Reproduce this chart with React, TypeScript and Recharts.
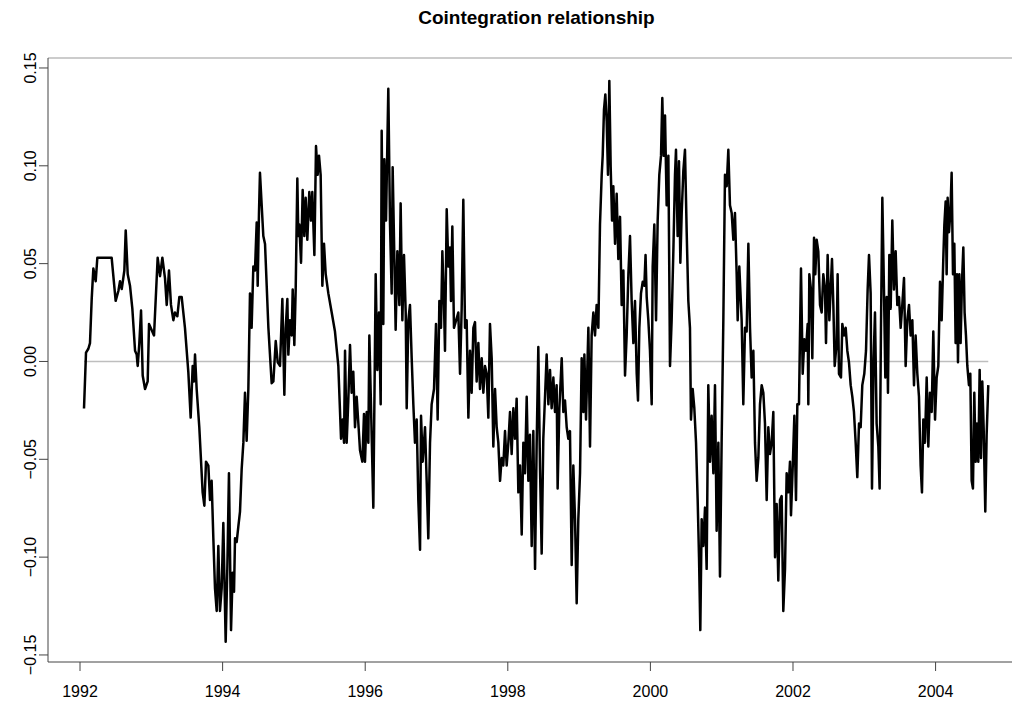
import React from 'react'
import { LineChart, Line, XAxis, YAxis, ReferenceLine } from 'recharts'

const title = 'Cointegration relationship'
const yearTicks = [1992, 1994, 1996, 1998, 2000, 2002, 2004]
const valueTicks = [-0.15, -0.1, -0.05, 0, 0.05, 0.1, 0.15]

// decimal-year dates of the spread
const dates = [
  1992.056, 1992.084, 1992.117, 1992.140, 1992.164, 1992.187, 1992.220, 1992.243, 1992.444, 1992.500,
  1992.538, 1992.561, 1992.585, 1992.622, 1992.641, 1992.669, 1992.701, 1992.734, 1992.772, 1992.795,
  1992.809, 1992.832, 1992.856, 1992.879, 1992.912, 1992.949, 1992.968, 1993.038, 1993.089, 1993.122,
  1993.155, 1993.192, 1993.216, 1993.248, 1993.276, 1993.309,
  1993.332, 1993.365, 1993.393, 1993.426, 1993.472, 1993.519, 1993.552, 1993.580, 1993.599, 1993.613,
  1993.636, 1993.673, 1993.720, 1993.744, 1993.767, 1993.800, 1993.823, 1993.846, 1993.870, 1993.893,
  1993.917, 1993.940, 1993.963, 1993.987, 1994.010, 1994.043, 1994.066, 1994.089, 1994.118, 1994.141,
  1994.160, 1994.174, 1994.197, 1994.220, 1994.244, 1994.267, 1994.291, 1994.314, 1994.337, 1994.361,
  1994.384, 1994.407, 1994.431, 1994.454, 1994.478, 1994.492, 1994.510, 1994.524, 1994.571,
  1994.595, 1994.642, 1994.688, 1994.712, 1994.745, 1994.773, 1994.805, 1994.838, 1994.866, 1994.885,
  1994.908, 1994.922, 1994.945, 1994.969, 1994.983, 1995.006, 1995.025, 1995.048, 1995.062, 1995.076,
  1995.100, 1995.123, 1995.146, 1995.165, 1995.188, 1995.216, 1995.240, 1995.258, 1995.287, 1995.310,
  1995.333, 1995.352, 1995.375, 1995.399, 1995.422, 1995.446, 1995.483, 1995.530, 1995.576, 1995.623,
  1995.661, 1995.684, 1995.703, 1995.717, 1995.740, 1995.763, 1995.787, 1995.810, 1995.833, 1995.857,
  1995.880, 1995.904, 1995.927, 1995.960, 1995.983,
  1995.997, 1996.021, 1996.044, 1996.058, 1996.077, 1996.114, 1996.147, 1996.170, 1996.193, 1996.217,
  1996.231, 1996.254, 1996.268, 1996.292, 1996.324, 1996.348, 1996.371, 1996.385, 1996.409, 1996.427,
  1996.451, 1996.479, 1996.497, 1996.521, 1996.544, 1996.568, 1996.582, 1996.605, 1996.628, 1996.652,
  1996.675, 1996.698, 1996.722, 1996.745, 1996.769, 1996.783, 1996.806, 1996.839, 1996.862, 1996.885,
  1996.909, 1996.932, 1996.965, 1996.993, 1997.016, 1997.040, 1997.063, 1997.082, 1997.105, 1997.119,
  1997.143, 1997.166, 1997.189, 1997.203, 1997.222, 1997.245,
  1997.306, 1997.330, 1997.353, 1997.376, 1997.400, 1997.423, 1997.447, 1997.470, 1997.493, 1997.517,
  1997.540, 1997.563, 1997.587, 1997.610, 1997.634, 1997.657, 1997.680, 1997.704, 1997.727, 1997.750,
  1997.774, 1997.797, 1997.821, 1997.844, 1997.867, 1997.891, 1997.914, 1997.937, 1997.961, 1997.984,
  1998.008, 1998.031, 1998.054, 1998.078, 1998.101, 1998.124, 1998.148, 1998.171, 1998.195, 1998.218,
  1998.241, 1998.265, 1998.288, 1998.311, 1998.335, 1998.358, 1998.382, 1998.405, 1998.428, 1998.452,
  1998.475, 1998.498, 1998.522, 1998.545, 1998.569,
  1998.592, 1998.615, 1998.639, 1998.662, 1998.685, 1998.699, 1998.723, 1998.756, 1998.779, 1998.802,
  1998.826, 1998.849, 1998.872, 1998.896, 1998.919, 1998.943, 1998.966, 1998.989, 1999.013, 1999.036,
  1999.060, 1999.074, 1999.097, 1999.130, 1999.153, 1999.176, 1999.200, 1999.223, 1999.246, 1999.270,
  1999.293, 1999.317, 1999.331, 1999.349, 1999.368, 1999.387, 1999.405, 1999.424, 1999.443, 1999.462,
  1999.480, 1999.504, 1999.527, 1999.550, 1999.574, 1999.597, 1999.621, 1999.644, 1999.667, 1999.691,
  1999.714, 1999.737, 1999.761, 1999.784, 1999.808, 1999.826, 1999.845, 1999.868, 1999.892, 1999.915,
  1999.932,
  1999.948, 1999.971, 1999.994, 2000.018, 2000.032, 2000.055, 2000.079, 2000.102, 2000.125, 2000.149,
  2000.167, 2000.186, 2000.205, 2000.228, 2000.252, 2000.275, 2000.298, 2000.322, 2000.345, 2000.359,
  2000.382, 2000.401, 2000.420, 2000.439, 2000.462, 2000.485, 2000.509, 2000.532, 2000.555, 2000.569,
  2000.593, 2000.616, 2000.640, 2000.663, 2000.682, 2000.700, 2000.719, 2000.742, 2000.766, 2000.789,
  2000.812, 2000.836, 2000.859, 2000.883, 2000.906, 2000.929, 2000.953, 2000.976, 2000.999, 2001.023,
  2001.046, 2001.070, 2001.093, 2001.116, 2001.140, 2001.163, 2001.186, 2001.210, 2001.224, 2001.247,
  2001.280, 2001.303, 2001.327, 2001.350, 2001.374, 2001.397, 2001.420, 2001.444, 2001.467, 2001.490,
  2001.514, 2001.537, 2001.561, 2001.584, 2001.607, 2001.631, 2001.654, 2001.677, 2001.701, 2001.724,
  2001.748, 2001.771, 2001.794, 2001.818, 2001.841, 2001.864, 2001.888, 2001.911, 2001.935, 2001.958,
  2001.972, 2001.995, 2002.019, 2002.042, 2002.061, 2002.084, 2002.112, 2002.136, 2002.159, 2002.182,
  2002.206, 2002.215, 2002.229, 2002.252, 2002.271, 2002.295, 2002.313, 2002.332, 2002.355, 2002.379,
  2002.402, 2002.425, 2002.449, 2002.463, 2002.486, 2002.510, 2002.528, 2002.547, 2002.566, 2002.585,
  2002.612, 2002.626, 2002.645, 2002.673, 2002.692, 2002.715, 2002.739, 2002.762, 2002.785, 2002.809,
  2002.832, 2002.855, 2002.879, 2002.902, 2002.926, 2002.949, 2002.972, 2003.000, 2003.024, 2003.047,
  2003.066, 2003.089, 2003.108, 2003.131, 2003.150, 2003.173, 2003.197, 2003.215, 2003.234, 2003.253,
  2003.276, 2003.295, 2003.314, 2003.332, 2003.351, 2003.370, 2003.393, 2003.416, 2003.440, 2003.463,
  2003.487, 2003.510, 2003.533, 2003.557, 2003.580, 2003.603, 2003.627, 2003.650, 2003.674, 2003.697,
  2003.720, 2003.744, 2003.767, 2003.790, 2003.809,
  2003.828, 2003.851, 2003.875, 2003.898, 2003.921, 2003.945, 2003.968, 2003.992, 2004.015, 2004.038,
  2004.062, 2004.085, 2004.108, 2004.123, 2004.141, 2004.155, 2004.169, 2004.188, 2004.207, 2004.225,
  2004.244, 2004.263, 2004.281, 2004.300, 2004.314, 2004.333, 2004.351, 2004.370, 2004.389, 2004.407,
  2004.426, 2004.445, 2004.468, 2004.487, 2004.506, 2004.524, 2004.543, 2004.562, 2004.580, 2004.599,
  2004.618, 2004.637, 2004.655, 2004.674, 2004.697, 2004.716, 2004.739,
]

const values = [
  -0.024, 0.0045, 0.0065, 0.0094, 0.032, 0.0475, 0.041, 0.053, 0.053, 0.031,
  0.036, 0.041, 0.037, 0.0465, 0.067, 0.0446, 0.0387, 0.027, 0.0055, 0.0035,
  -0.0023, 0.0094, 0.026, -0.0072, -0.0141, -0.0102, 0.0192, 0.0133, 0.053, 0.0436,
  0.053, 0.0426, 0.0289, 0.0465, 0.0289, 0.0211,
  0.025, 0.0231, 0.0329, 0.0329, 0.0172, -0.0053, -0.0287, -0.0023, -0.0102, 0.0035,
  -0.0141, -0.0336, -0.0669, -0.0737, -0.0512, -0.0532, -0.0708, -0.061, -0.0904, -0.1158,
  -0.1275, -0.0943, -0.1275, -0.1158, -0.0826, -0.1432, -0.106, -0.0571, -0.1373, -0.108,
  -0.1177, -0.0904, -0.0923, -0.0845, -0.0767, -0.0552, -0.0415, -0.016, -0.0405, -0.0141,
  0.0348, 0.0172, 0.0485, 0.0465, 0.071, 0.0387, 0.0759, 0.0964, 0.0641,
  0.060, 0.0172, -0.0111, -0.0102, 0.0104, -0.0004, -0.0023, 0.0319, -0.017, 0.0172,
  0.0319, 0.0035, 0.0211, 0.0133, 0.0368, 0.0084, 0.0368, 0.0935, 0.0641, 0.070,
  0.0505, 0.0876, 0.0641, 0.0837, 0.0622, 0.0866, 0.072, 0.0866, 0.0544, 0.1101,
  0.0954, 0.1052, 0.0954, 0.0387, 0.0602, 0.0446, 0.0348, 0.025, 0.0153, -0.0023,
  -0.0395, -0.0297, -0.0415, 0.0055, -0.0415, -0.0199, 0.0084, -0.016, -0.0053, -0.0336,
  -0.018, -0.0317, -0.0454, -0.0512, -0.0268,
  -0.0512, -0.0258, -0.0415, 0.0133, -0.016, -0.0747, 0.0446, -0.0043, 0.025, -0.0219,
  0.1179, 0.0192, 0.1033, 0.072, 0.1394, 0.070, 0.0348, 0.0993, 0.0524, 0.0162,
  0.0563, 0.0289, 0.0808, 0.0211, 0.0544, 0.025, -0.0239, 0.0211, 0.0289, 0.0016,
  -0.0219, -0.0415, -0.0297, -0.0708, -0.0962, -0.0278, -0.0512, -0.0336, -0.061, -0.0904,
  -0.0415, -0.0219, -0.0141, 0.0192, -0.0297, 0.0309, 0.0172, 0.0563, 0.0289, 0.0055,
  0.0778, 0.0485, 0.0583, 0.0309, 0.069, 0.0172,
  0.025, -0.0063, 0.027, 0.0827, 0.0172, 0.0211, -0.0287, 0.0055, -0.016, 0.0172,
  0.0201, -0.0102, 0.0094, -0.0141, 0.0016, -0.016, -0.0023, -0.0063, -0.0287, 0.0192,
  0.0016, -0.0434, -0.0141, -0.0336, -0.0415, -0.061, -0.0493, -0.0532, -0.0356, -0.0532,
  -0.0415, -0.0258, -0.0473, -0.0239, -0.0395, -0.019, -0.0669, -0.0532, -0.0884, -0.0415,
  -0.0571, -0.018, -0.061, -0.0375, -0.0943, -0.0356, -0.106, -0.0415, 0.0074, -0.0552,
  -0.0982, -0.0395, -0.018, 0.0035, -0.0219,
  -0.0043, -0.0239, -0.0082, -0.0258, -0.0121, -0.0649, -0.0239, 0.0016, -0.0258, -0.0199,
  -0.0336, -0.0395, -0.0356, -0.104, -0.0532, -0.0806, -0.1236, -0.0806, -0.0571, 0.0016,
  -0.0258, 0.0035, -0.0297, 0.0172, -0.0434, 0.0133, 0.025, 0.0133, 0.0289, 0.0172,
  0.070, 0.0954, 0.1052, 0.1287, 0.1365, 0.1228, 0.0954, 0.1434, 0.0994, 0.072,
  0.0896, 0.0602, 0.0857, 0.0524, 0.0739, 0.0289, 0.0465, -0.0072, 0.0133, 0.0446,
  0.0641, 0.0309, 0.0094, 0.0309, -0.0063, -0.0199, 0.0172, 0.0348, 0.0407, 0.0387,
  0.0544,
  0.0329, 0.0211, 0.0055, -0.0219, 0.0485, 0.070, 0.0211, 0.072, 0.0954, 0.1052,
  0.1346, 0.1052, 0.1257, 0.0798, 0.1052, -0.0023, 0.0211, 0.0563, 0.0954, 0.1082,
  0.0641, 0.1023, 0.0505, 0.0759, 0.0974, 0.1082, 0.0661, 0.0309, 0.0172, -0.0297,
  -0.0141, -0.0239, -0.0415, -0.0708, -0.1002, -0.1373, -0.0806, -0.0943, -0.0747, -0.106,
  -0.0121, -0.0512, -0.0278, -0.0571, -0.0121, -0.0865, -0.0415, -0.1099, -0.0415, 0.0211,
  0.0954, 0.0896, 0.1082, 0.0798, 0.0759, 0.0622, 0.0759, 0.0446, 0.0211, 0.0485,
  0.0211, -0.0219, 0.0172, 0.0153, 0.0602, 0.0172, -0.0082, 0.0055, -0.0415, -0.061,
  -0.0493, -0.0219, -0.0121, -0.016, -0.0317, -0.0708, -0.0336, -0.0473, -0.0415, -0.0258,
  -0.1001, -0.0728, -0.1119, -0.0708, -0.0688, -0.1275, -0.106, -0.0571, -0.0669, -0.0512,
  -0.0786, -0.0552, -0.0278, -0.0708, -0.0219, -0.0219, 0.0475, -0.0063, 0.0113, 0.0055,
  0.0192, -0.0219, 0.0446, 0.0368, 0.0016, 0.0632, 0.0446, 0.0622, 0.0563, 0.0289,
  0.025, 0.0446, 0.0368, 0.0094, 0.0544, 0.0211, 0.0368, 0.0524, 0.0289, -0.0023,
  0.0094, 0.0446, -0.0063, -0.0082, 0.0192, 0.0133, 0.0172, 0.0055, -0.0004, -0.0121,
  -0.018, -0.0258, -0.0415, -0.0591, -0.0317, -0.0336, -0.0121, -0.0063, 0.0055, 0.0368,
  0.0544, 0.0348, -0.0649, 0.0016, 0.025, -0.0317, -0.0434, -0.0649, 0.0172, 0.0837,
  0.0368, -0.0082, 0.0329, -0.016, 0.0544, 0.027, 0.072, 0.0368, 0.0563, 0.0289,
  0.0329, 0.0172, 0.0289, 0.0426, -0.0023, 0.0211, 0.0289, 0.0133, 0.0211, -0.0121,
  0.0133, -0.0063, -0.018, -0.0532, -0.0669,
  -0.0297, -0.0415, -0.0082, -0.0434, -0.016, -0.0258, 0.0153, -0.0297, -0.0082, -0.0023,
  0.0407, 0.0211, 0.0524, 0.070, 0.0817, 0.0446, 0.0837, 0.0661, 0.0759, 0.0964,
  0.0446, 0.0602, 0.0094, 0.0446, -0.0004, 0.0446, 0.0094, 0.0407, 0.0583, 0.025,
  0.0133, -0.0023, -0.0121, -0.0063, -0.061, -0.0649, -0.016, -0.0512, -0.0317, -0.0512,
  -0.0043, -0.0493, -0.0102, -0.0336, -0.0767, -0.0375, -0.0121,
]

const data = dates.map((t, i) => ({ t, v: values[i] }))
const zeroLine = [
  { t: dates[0], z: 0 },
  { t: dates[dates.length - 1], z: 0 },
]

const FONT = '"Liberation Sans", Arial, Helvetica, sans-serif'
const AXIS = '#444'

const fmt = (v: number) => (v < 0 ? '\u2212' : '') + Math.abs(v).toFixed(2)

const YTick = ({ y, payload }: any) => (
  <text
    transform={`translate(36, ${y}) rotate(-90)`}
    textAnchor="middle"
    fontSize={16}
    fontFamily={FONT}
    fill="#000"
  >
    {fmt(payload.value)}
  </text>
)

const XTick = ({ x, payload }: any) => (
  <text x={x} y={697} textAnchor="middle" fontSize={16} fontFamily={FONT} fill="#000">
    {payload.value}
  </text>
)

export default function App() {
  return (
    <div
      style={{
        position: 'fixed',
        left: 0,
        top: 0,
        width: 1012,
        height: 705,
        overflow: 'hidden',
        background: '#fff',
      }}
    >
      <div
        style={{
          position: 'absolute',
          left: 0,
          top: 6,
          width: 1073,
          textAlign: 'center',
          fontFamily: FONT,
          fontWeight: 'bold',
          fontSize: 19,
          lineHeight: '24px',
        }}
      >
        {title}
      </div>
      <LineChart
        width={1035}
        height={705}
        data={data}
        margin={{ top: 58, right: 10, bottom: 0, left: 0 }}
      >
        <XAxis
          dataKey="t"
          type="number"
          domain={[1991.551, 2005.254]}
          ticks={yearTicks}
          tick={<XTick />}
          tickSize={9}
          height={43}
          axisLine={{ stroke: AXIS }}
          tickLine={{ stroke: AXIS }}
          allowDataOverflow
        />
        <YAxis
          type="number"
          domain={[-0.1536, 0.1551]}
          ticks={valueTicks}
          tick={<YTick />}
          tickSize={9}
          width={48}
          axisLine={{ stroke: AXIS }}
          tickLine={{ stroke: AXIS }}
          allowDataOverflow
        />
        <ReferenceLine y={0.1551} stroke="#999" />
        <Line
          data={zeroLine}
          dataKey="z"
          stroke="#bebebe"
          strokeWidth={1.5}
          dot={false}
          activeDot={false}
          isAnimationActive={false}
        />
        <Line
          dataKey="v"
          type="linear"
          stroke="#000"
          strokeWidth={2.5}
          strokeLinejoin="round"
          dot={false}
          activeDot={false}
          isAnimationActive={false}
        />
      </LineChart>
    </div>
  )
}
